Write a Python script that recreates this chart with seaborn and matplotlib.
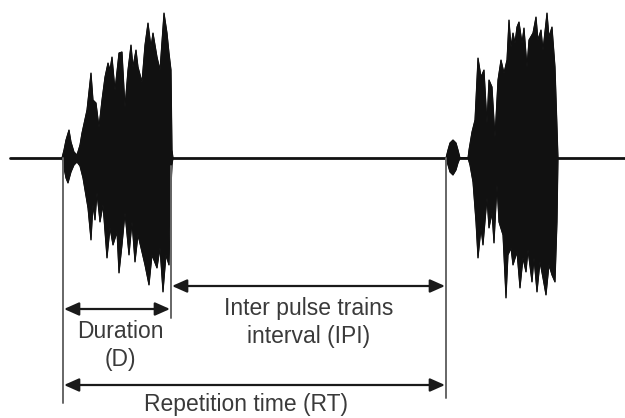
import matplotlib
matplotlib.use("Agg")
import matplotlib.pyplot as plt
import seaborn as sns
import numpy as np

sns.set_theme(style="white")
plt.rcParams['font.family'] = ['Liberation Sans', 'DejaVu Sans']

# ---- data (time in px-like units, amplitude relative to baseline) ----
trace_x = [10, 625]
trace_amp = [0, 0]

b1_top_t = [62, 64, 66, 69, 71, 74, 77, 80, 82, 87, 91, 93, 96, 99, 102, 105, 108, 110, 112, 115,
            119, 122, 125, 128, 131, 133, 136, 138, 142, 145, 148, 151, 153, 157, 160, 164, 167,
            169, 171, 172, 173]
b1_top_a = [0, 8, 18, 28, 16, 6, 3, 13, 25, 48, 85, 58, 55, 31, 58, 81, 95, 88, 101, 68,
            105, 106, 51, 88, 113, 91, 108, 91, 76, 113, 135, 111, 125, 101, 88, 145, 125,
            105, 88, 8, 0]
b1_bot_t = [62, 64, 66, 68, 71, 74, 77, 80, 83, 88, 91, 93, 95, 97, 100, 103, 107, 110, 113, 117,
            119, 122, 125, 129, 132, 135, 138, 142, 145, 149, 152, 157, 160, 163, 166, 169, 171,
            172, 173]
b1_bot_a = [0, -10, -20, -25, -14, -7, -4, -8, -20, -50, -82, -47, -62, -35, -64, -47, -100, -70,
            -87, -74, -115, -87, -55, -97, -64, -104, -77, -94, -107, -127, -97, -110, -90, -134,
            -97, -107, -30, -7, 0]

b2_top_t = [446, 448, 450, 453, 456, 458, 460, 468, 469, 472, 475, 478, 481, 484, 487, 489, 492,
            495, 498, 501, 504, 507, 509, 511, 513, 515, 517, 519, 522, 524, 527, 529, 533, 536,
            538, 541, 543, 547, 549, 552, 555, 557, 558]
b2_top_a = [0, 8, 15, 18, 15, 8, 0, 0, 8, 26, 38, 100, 81, 88, 35, 78, 71,
            21, 78, 98, 85, 98, 138, 111, 125, 115, 131, 136, 115, 130, 91, 118, 125, 141,
            118, 128, 108, 145, 121, 131, 91, 31, 0]
b2_bot_t = [446, 448, 450, 453, 456, 458, 460, 468, 470, 473, 476, 478, 481, 483, 487, 489, 492,
            494, 497, 499, 503, 506, 508, 511, 513, 517, 520, 523, 526, 528, 532, 534, 537, 540,
            543, 546, 549, 552, 555, 557, 558]
b2_bot_a = [0, -7, -14, -17, -12, -5, 0, 0, -7, -24, -64, -100, -70, -87, -40, -70, -55,
            -85, -27, -64, -77, -140, -97, -90, -107, -94, -130, -100, -114, -92, -124, -100,
            -134, -104, -120, -137, -107, -117, -124, -64, 0]

# measured intervals (start, end) on the time axis
d_interval = (63, 171)
ipi_interval = (171, 446)
rt_interval = (63, 446)

# ---- figure ----
fig = plt.figure(figsize=(6.25, 4.18), dpi=100)
ax = fig.add_axes([0, 0, 1, 1])
ax.set_xlim(0, 625)
ax.set_ylim(158 - 418, 158)
ax.axis("off")

sns.lineplot(x=trace_x, y=trace_amp, ax=ax, color="#111111", lw=2.0, sort=False)

for tt, ta, bt, ba in [(b1_top_t, b1_top_a, b1_bot_t, b1_bot_a),
                       (b2_top_t, b2_top_a, b2_bot_t, b2_bot_a)]:
    px = list(tt) + list(bt[::-1])
    py = list(ta) + list(ba[::-1])
    ax.fill(px, py, color="#111111", lw=0.6, ec="#111111")
    sns.lineplot(x=tt, y=ta, ax=ax, color="#111111", lw=0.8, sort=False)
    sns.lineplot(x=bt, y=ba, ax=ax, color="#111111", lw=0.8, sort=False)

# guide lines
gcol = "#666666"
ax.plot([d_interval[0], d_interval[0]], [0, -245], color=gcol, lw=1.4)
ax.plot([ipi_interval[1], ipi_interval[1]], [0, -240], color=gcol, lw=1.4)
ax.plot([d_interval[1], d_interval[1]], [-8, -160], color=gcol, lw=1.4)

aprops = dict(arrowstyle="<|-|>,head_length=0.9,head_width=0.4", mutation_scale=10,
              color="#1a1a1a", lw=1.6, shrinkA=0, shrinkB=0)
ax.annotate("", xy=(d_interval[0] + 1, -151), xytext=(d_interval[1] - 1, -151), arrowprops=aprops)
ax.annotate("", xy=(ipi_interval[0] + 1, -128), xytext=(ipi_interval[1] - 1, -128), arrowprops=aprops)
ax.annotate("", xy=(rt_interval[0] + 1, -227), xytext=(rt_interval[1] - 1, -227), arrowprops=aprops)

tkw = dict(fontsize=16.5, color="#3a3a3a", ha="center", va="baseline")
ax.text(120, -180, "Duration", **tkw)
ax.text(120, -208, "(D)", **tkw)
ax.text(309, -157, "Inter pulse trains", **tkw)
ax.text(309, -185, "interval (IPI)", **tkw)
ax.text(246, -253, "Repetition time (RT)", **tkw)

fig.savefig("out.png", dpi=100, facecolor="white")
